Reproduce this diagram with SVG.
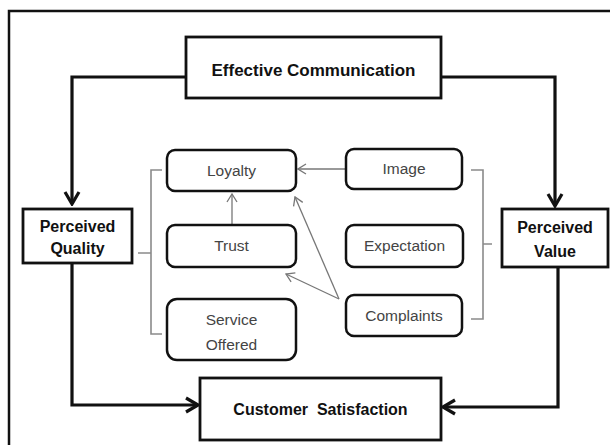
<svg xmlns="http://www.w3.org/2000/svg" width="610" height="445" viewBox="0 0 610 445">
<defs>
<style>
.frame{fill:none;stroke:#111;stroke-width:2.5}
.box{fill:#fff;stroke:#111;stroke-width:2.8}
.rbox{fill:#fff;stroke:#111;stroke-width:2.5}
.thick{fill:none;stroke:#111;stroke-width:3.2;stroke-linejoin:miter}
.thin{fill:none;stroke:#777;stroke-width:1.3}
.brk{fill:none;stroke:#8a8a8a;stroke-width:1.6}
.bt{font-family:"Liberation Sans",Arial,sans-serif;font-weight:bold;font-size:16px;fill:#111;text-anchor:middle;white-space:pre}
.nt{font-family:"Liberation Sans",Arial,sans-serif;font-size:15.5px;fill:#444;text-anchor:middle}
</style>
<marker id="ah" markerUnits="userSpaceOnUse" markerWidth="16" markerHeight="18" viewBox="0 0 16 18" refX="14" refY="9" orient="auto">
<path d="M2,2 L14,9 L2,16" fill="none" stroke="#111" stroke-width="3.2"/>
</marker>
<marker id="ta" markerUnits="userSpaceOnUse" markerWidth="10" markerHeight="12" viewBox="0 0 10 12" refX="9" refY="6" orient="auto">
<path d="M1,1 L9,6 L1,11" fill="none" stroke="#777" stroke-width="1.3"/>
</marker>
</defs>
<rect width="610" height="445" fill="#fff"/>
<path class="frame" d="M9,447 V11 H612"/>
<g id="connectors">
<path class="thick" d="M186,77 H72 V204" marker-end="url(#ah)"/>
<path class="thick" d="M441,77 H555 V206" marker-end="url(#ah)"/>
<path class="thick" d="M72,263 V405 H198" marker-end="url(#ah)"/>
<path class="thick" d="M558,267 V407 H443" marker-end="url(#ah)"/>
<path class="thin" d="M346,169 H298" marker-end="url(#ta)"/>
<path class="thin" d="M232,225 V194" marker-end="url(#ta)"/>
<path class="thin" d="M339,299 L295,197" marker-end="url(#ta)"/>
<path class="thin" d="M339,299 L286,274" marker-end="url(#ta)"/>
<path class="brk" d="M162,170 H151 V334 H162 M151,253 H138"/>
<path class="brk" d="M471,170 H483 V319 H471 M483,244 H492"/>
</g>
<g id="effective-communication">
<rect class="box" x="186" y="37" width="255" height="61"/>
<text class="bt" x="313.5" y="76" style="font-size:17px">Effective Communication</text>
</g>
<g id="perceived-quality">
<rect class="box" x="23" y="209" width="109" height="54"/>
<text class="bt" x="77.5" y="232">Perceived</text>
<text class="bt" x="77.5" y="254">Quality</text>
</g>
<g id="perceived-value">
<rect class="box" x="502" y="209" width="106" height="58"/>
<text class="bt" x="555" y="233">Perceived</text>
<text class="bt" x="555" y="257">Value</text>
</g>
<g id="customer-satisfaction">
<rect class="box" x="200" y="378" width="241" height="62"/>
<text class="bt" x="320.5" y="415" xml:space="preserve">Customer  Satisfaction</text>
</g>
<g id="loyalty">
<rect class="rbox" x="167" y="150" width="129" height="41" rx="8"/>
<text class="nt" x="231.5" y="176">Loyalty</text>
</g>
<g id="trust">
<rect class="rbox" x="167" y="225" width="129" height="42" rx="8"/>
<text class="nt" x="231.5" y="251">Trust</text>
</g>
<g id="service-offered">
<rect class="rbox" x="167" y="299" width="129" height="61" rx="10"/>
<text class="nt" x="231.5" y="325">Service</text>
<text class="nt" x="231.5" y="350">Offered</text>
</g>
<g id="image">
<rect class="rbox" x="346" y="149" width="116" height="40" rx="8"/>
<text class="nt" x="404" y="174">Image</text>
</g>
<g id="expectation">
<rect class="rbox" x="346" y="225" width="117" height="42" rx="8"/>
<text class="nt" x="404.5" y="251">Expectation</text>
</g>
<g id="complaints">
<rect class="rbox" x="346" y="295" width="116" height="41" rx="8"/>
<text class="nt" x="404" y="321">Complaints</text>
</g>
</svg>
